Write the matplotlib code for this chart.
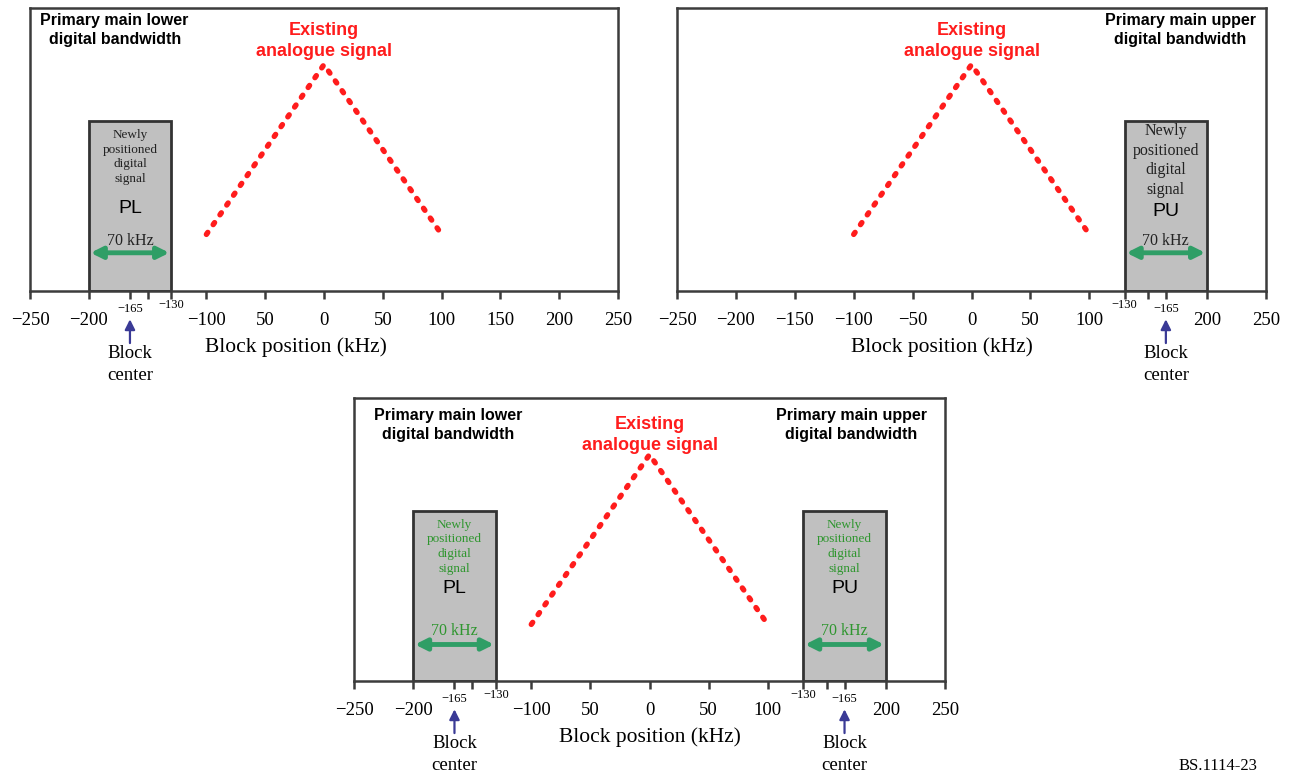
import matplotlib
matplotlib.use("Agg")
import matplotlib.pyplot as plt
import matplotlib.transforms as mtransforms

# ---------------- data ----------------
x_min, x_max = -250, 250
analog_x = [-100, 0, 100]
analog_y = [0.20, 0.80, 0.20]
pl_block = (-200, -130)
pu_block = (130, 200)
block_height = 0.60
pl_center = -165
pu_center = 165

tl_ticks = [-250, -200, -165, -150, -130, -100, -50, 0, 50, 100, 150, 200, 250]
tl_labels = ["−250", "−200", "", "", "", "−100", "50", "0", "50", "100", "150", "200", "250"]
tr_ticks = [-250, -200, -150, -100, -50, 0, 50, 100, 130, 150, 165, 200, 250]
tr_labels = ["−250", "−200", "−150", "−100", "−50", "0", "50", "100", "", "", "", "200", "250"]
b_ticks = [-250, -200, -165, -150, -130, -100, -50, 0, 50, 100, 130, 150, 165, 200, 250]
b_labels = ["−250", "−200", "", "", "", "−100", "50", "0", "50", "100", "", "", "", "200", "250"]

small_pl = [(-165, "−165"), (-130, "−130")]
small_pu = [(130, "−130"), (165, "−165")]

box_text = "Newly\npositioned\ndigital\nsignal"

# ---------------- style ----------------
SERIF = "Liberation Serif"
SANS = "Liberation Sans"
RED = "#ff1c1c"
GREEN_ARROW = "#2f9e66"
GREEN_TEXT = "#2f962f"
NAVY = "#3a3a96"
FRAME = "#3c3c3c"
BOXFILL = "#c0c0c0"

fig = plt.figure(figsize=(12.89, 7.75), dpi=100)


def make_axes(rect, ticks, labels):
    ax = fig.add_axes(rect)
    ax.set_xlim(x_min, x_max)
    ax.set_ylim(0, 1)
    ax.set_yticks([])
    ax.set_xticks(ticks)
    ax.set_xticklabels(labels, fontfamily=SERIF, fontsize=13.5)
    ax.tick_params(axis="x", direction="out", length=6, width=1.8, color=FRAME, pad=9)
    for s in ax.spines.values():
        s.set_color(FRAME)
        s.set_linewidth(1.8)
    return ax


def draw_analog(ax, title_y):
    ax.plot(analog_x, analog_y, color=RED, lw=3.9, linestyle=(0, (0.45, 1.75)),
            dash_capstyle="round", zorder=3)
    ax.text(0, title_y, "Existing\nanalogue signal", color=RED, fontfamily=SANS,
            fontweight="bold", fontsize=13, ha="center", va="center", linespacing=1.3)


def draw_block(ax, block, center, name, text_color, tsize, tcenter, name_y, khz_y, arr_y):
    lo, hi = block
    ax.bar([center], [block_height], width=hi - lo, color=BOXFILL, edgecolor="#333333",
           linewidth=2, zorder=2)
    ax.text(center, tcenter, box_text, fontfamily=SERIF, fontsize=tsize, color=text_color,
            ha="center", va="center", linespacing=1.3, zorder=4)
    ax.text(center, name_y, name, fontfamily=SANS, fontsize=14, color="black",
            ha="center", va="center", zorder=4)
    ax.text(center, khz_y, "70 kHz", fontfamily=SERIF, fontsize=11.5, color=text_color,
            ha="center", va="center", zorder=4)
    ax.annotate("", xy=(lo + 1.5, arr_y), xytext=(hi - 1.5, arr_y),
                arrowprops=dict(arrowstyle="<|-|>", color=GREEN_ARROW, lw=3.5,
                                mutation_scale=17, shrinkA=0, shrinkB=0), zorder=5)


def draw_center(ax, xc, smalls):
    trans = mtransforms.blended_transform_factory(ax.transData, ax.transAxes)
    for xv, lab in smalls:
        yy = -0.064 if "165" in lab else -0.05
        ax.text(xv, yy, lab, transform=trans, fontfamily=SERIF, fontsize=9,
                ha="center", va="center", clip_on=False)
    ax.annotate("", xy=(xc, -0.10), xytext=(xc, -0.184), xycoords=trans, textcoords=trans,
                arrowprops=dict(arrowstyle="-|>", color=NAVY, lw=1.6, mutation_scale=15,
                                shrinkA=0, shrinkB=0), annotation_clip=False)
    ax.text(xc, -0.26, "Block\ncenter", transform=trans, fontfamily=SERIF, fontsize=13.5,
            ha="center", va="center", linespacing=1.35, clip_on=False)


def title(ax, x, y, txt):
    ax.text(x, y, txt, fontfamily=SANS, fontweight="bold", fontsize=11.5, ha="center",
            va="center", linespacing=1.35)


h = 283 / 775
# ---- top-left ----
ax1 = make_axes([30 / 1289, 1 - 291 / 775, 588 / 1289, h], tl_ticks, tl_labels)
draw_analog(ax1, 0.883)
title(ax1, -178, 0.923, "Primary main lower\ndigital bandwidth")
draw_block(ax1, pl_block, pl_center, "PL", "#222222", 9.5, 0.474, 0.293, 0.176, 0.135)
draw_center(ax1, pl_center, small_pl)
ax1.set_xlabel("Block position (kHz)", fontfamily=SERIF, fontsize=15.5)
ax1.xaxis.set_label_coords(0.453, -0.2)
ax1.xaxis.label.set_va("center")

# ---- top-right ----
ax2 = make_axes([677 / 1289, 1 - 291 / 775, 589 / 1289, h], tr_ticks, tr_labels)
draw_analog(ax2, 0.883)
title(ax2, 177, 0.923, "Primary main upper\ndigital bandwidth")
draw_block(ax2, pu_block, pu_center, "PU", "#222222", 11.5, 0.461, 0.281, 0.176, 0.135)
draw_center(ax2, pu_center, small_pu)
ax2.set_xlabel("Block position (kHz)", fontfamily=SERIF, fontsize=15.5)
ax2.xaxis.set_label_coords(0.45, -0.2)
ax2.xaxis.label.set_va("center")

# ---- bottom ----
ax3 = make_axes([354 / 1289, 1 - 681 / 775, 591 / 1289, h], b_ticks, b_labels)
draw_analog(ax3, 0.870)
title(ax3, -170, 0.905, "Primary main lower\ndigital bandwidth")
title(ax3, 171, 0.905, "Primary main upper\ndigital bandwidth")
draw_block(ax3, pl_block, pl_center, "PL", GREEN_TEXT, 9.5, 0.475, 0.326, 0.176, 0.129)
draw_block(ax3, pu_block, pu_center, "PU", GREEN_TEXT, 9.5, 0.475, 0.326, 0.176, 0.129)
draw_center(ax3, pl_center, small_pl)
draw_center(ax3, pu_center, small_pu)
ax3.set_xlabel("Block position (kHz)", fontfamily=SERIF, fontsize=15.5)
ax3.xaxis.set_label_coords(0.5, -0.2)
ax3.xaxis.label.set_va("center")

fig.text(1218 / 1289, 0.0015, "BS.1114-23", fontfamily=SERIF, fontsize=12, ha="center", va="bottom")

fig.savefig("out.png", dpi=100)
